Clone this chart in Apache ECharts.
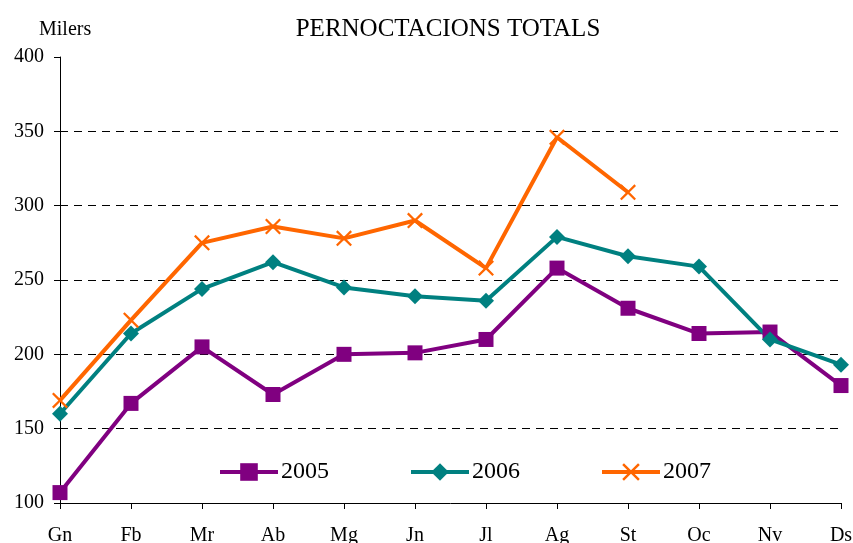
<!DOCTYPE html>
<html>
<head>
<meta charset="utf-8">
<script src="https://cdn.jsdelivr.net/npm/echarts@6/dist/echarts.min.js"></script>
<style>
html, body { margin: 0; padding: 0; background: #fff; }
#chart { width: 853px; height: 543px; }
</style>
</head>
<body>
<div id="chart"></div>
<script>
var months = ['Gn', 'Fb', 'Mr', 'Ab', 'Mg', 'Jn', 'Jl', 'Ag', 'St', 'Oc', 'Nv', 'Ds'];
var data2005 = [107, 167, 205, 173, 200, 201, 210, 258, 231, 214, 215, 179];
var data2006 = [160, 214, 244, 262, 245, 239, 236, 279, 266, 259, 210, 193];
var data2007 = [169, 223, 275, 286, 278, 290, 258, 346, 309];

var font = 'Liberation Serif, Times New Roman, serif';
// cruz per al 2007
var crossPath = 'path://M0,1L1,0L5,4L9,0L10,1L6,5L10,9L9,10L5,6L1,10L0,9L4,5Z';

var myChart = echarts.init(document.getElementById('chart'));

var option = {
    animation: false,
    backgroundColor: '#fff',
    title: [{
        text: 'PERNOCTACIONS TOTALS',
        left: 443,
        top: 12,
        textAlign: 'center',
        textStyle: { fontFamily: font, fontSize: 25, fontWeight: 'normal', color: '#000' }
    }, {
        text: 'Milers',
        left: 34,
        top: 15,
        textStyle: { fontFamily: font, fontSize: 20, fontWeight: 'normal', color: '#000' }
    }],
    legend: {
        left: 218,
        top: 460,
        padding: 0,
        itemGap: 80,
        itemWidth: 58,
        itemHeight: 22,
        lineStyle: { width: 4 },
        textStyle: { fontFamily: font, fontSize: 24, color: '#000', padding: [0, 0, 0, -2] },
        data: ['2005', '2006', '2007']
    },
    grid: {
        left: 60,
        right: 12,
        top: 57,
        bottom: 40,
        containLabel: false,
        outerBoundsMode: 'none'
    },
    xAxis: {
        type: 'category',
        boundaryGap: false,
        data: months,
        axisLine: { lineStyle: { color: '#000', width: 1 } },
        axisTick: { length: 6, inside: false, lineStyle: { color: '#000' } },
        axisLabel: { fontFamily: font, fontSize: 20, color: '#000', margin: 23 },
        splitLine: { show: false }
    },
    yAxis: {
        type: 'value',
        min: 100,
        max: 400,
        interval: 50,
        axisLine: { show: true, lineStyle: { color: '#000', width: 1 } },
        axisTick: { show: true, length: 6, lineStyle: { color: '#000' } },
        axisLabel: { fontFamily: font, fontSize: 20, color: '#000', margin: 16 },
        splitLine: {
            show: true,
            showMaxLine: false,
            lineStyle: { color: '#000', type: [8, 6], width: 1 }
        }
    },
    series: [{
        name: '2005',
        type: 'line',
        data: data2005,
        symbol: 'rect',
        symbolSize: 15,
        color: '#800080',
        lineStyle: { width: 4, color: '#800080' },
        itemStyle: { color: '#800080' }
    }, {
        name: '2006',
        type: 'line',
        data: data2006,
        symbol: 'diamond',
        symbolSize: 16,
        color: '#008080',
        lineStyle: { width: 4, color: '#008080' },
        itemStyle: { color: '#008080' }
    }, {
        name: '2007',
        type: 'line',
        data: data2007,
        symbol: crossPath,
        symbolSize: 16,
        color: '#FF6600',
        lineStyle: { width: 4, color: '#FF6600' },
        itemStyle: { color: '#FF6600' }
    }]
};

myChart.setOption(option);
</script>
</body>
</html>
